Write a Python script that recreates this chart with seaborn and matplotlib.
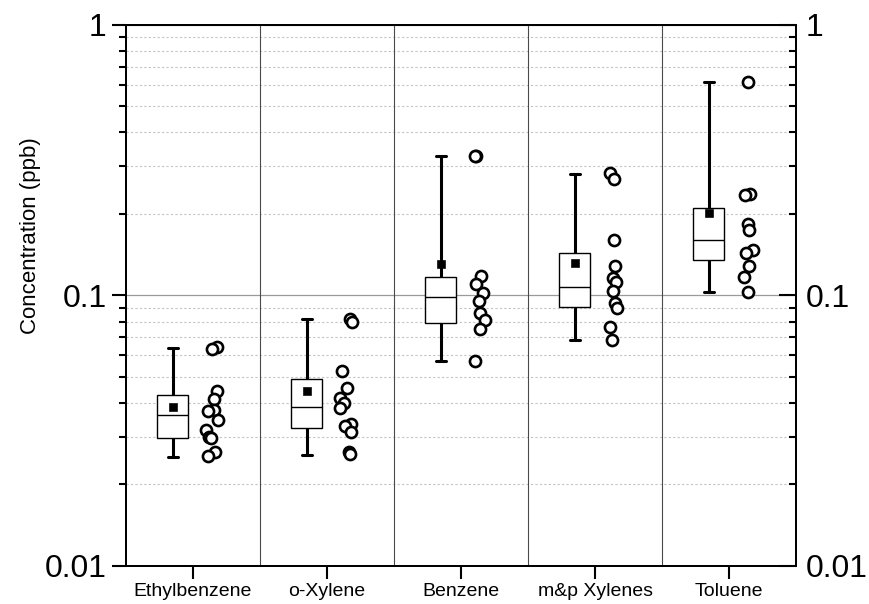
import numpy as np
import pandas as pd
import matplotlib
matplotlib.use("Agg")
import matplotlib.pyplot as plt
import seaborn as sns
from matplotlib.ticker import LogLocator, NullFormatter, FixedLocator

compounds = ["Ethylbenzene", "o-Xylene", "Benzene", "m&p Xylenes", "Toluene"]

# box summary (ppb)
whisker_low = [0.0253, 0.0257, 0.0571, 0.0683, 0.1026]
q1 = [0.0297, 0.0324, 0.0788, 0.0905, 0.1355]
median = [0.0360, 0.0387, 0.0989, 0.107, 0.160]
q3 = [0.0430, 0.0489, 0.1165, 0.144, 0.211]
whisker_high = [0.0640, 0.0815, 0.327, 0.280, 0.616]
means = [0.0388, 0.0443, 0.131, 0.132, 0.201]

# individual samples (ppb)
ethylbenzene = [0.0645, 0.0636, 0.0443, 0.0413, 0.0377, 0.0375, 0.0346,
                0.0319, 0.0300, 0.0297, 0.0263, 0.0255]
o_xylene = [0.0820, 0.0797, 0.0525, 0.0455, 0.0416, 0.0399, 0.0382,
            0.0336, 0.0330, 0.0313, 0.0264, 0.0259]
benzene = [0.327, 0.327, 0.1175, 0.1098, 0.102, 0.0955, 0.0857, 0.0814,
           0.0753, 0.0572]
mp_xylenes = [0.283, 0.270, 0.160, 0.128, 0.116, 0.112, 0.1035, 0.0937,
              0.0901, 0.0764, 0.0683]
toluene = [0.616, 0.237, 0.235, 0.184, 0.175, 0.1475, 0.143, 0.128,
           0.117, 0.1028]
samples = [ethylbenzene, o_xylene, benzene, mp_xylenes, toluene]

BOX_OFFSET = -0.15
POINT_OFFSET = 0.14

sns.set_style("white")
plt.rcParams["font.family"] = ["Liberation Sans", "DejaVu Sans"]
plt.rcParams["text.color"] = "black"
plt.rcParams["xtick.color"] = "black"
plt.rcParams["ytick.color"] = "black"
plt.rcParams["axes.labelcolor"] = "black"

n = len(compounds)
idx = np.arange(n)

# five-number table: with whis=(0, 100) seaborn reproduces the box exactly
box_df = pd.DataFrame({
    "pos": np.repeat(idx + BOX_OFFSET, 5),
    "value": np.column_stack([whisker_low, q1, median, q3, whisker_high]).ravel(),
})
pts_df = pd.DataFrame({
    "pos": np.concatenate([[i + POINT_OFFSET] * len(s) for i, s in enumerate(samples)]),
    "value": np.concatenate(samples),
})

fig = plt.figure(figsize=(8.69, 6.04), dpi=100)
ax = fig.add_axes([0.145, 0.063, 0.771, 0.896])
ax.set_yscale("log")
ax.set_axisbelow(True)

sns.boxplot(data=box_df, x="pos", y="value", native_scale=True, orient="x",
            whis=(0, 100), width=0.23, showfliers=False,
            color="white", linecolor="black", linewidth=1.0,
            whiskerprops=dict(linewidth=2.2), capprops=dict(linewidth=2.2),
            ax=ax, zorder=3)

# shorten the caps to match the reference
for cont in ax.containers:
    for cap in getattr(cont, "caps", []):
        xd = np.asarray(cap.get_xdata(), dtype=float)
        c = xd.mean()
        cap.set_xdata([c - 0.035, c + 0.035])

sns.scatterplot(x=idx + BOX_OFFSET, y=means, marker="s", color="black",
                s=32, edgecolor="black", ax=ax, zorder=5, legend=False)

np.random.seed(4)
sns.stripplot(data=pts_df, x="pos", y="value", native_scale=True, orient="x",
              jitter=0.045, color="white", edgecolor="black", linewidth=1.9,
              size=8, ax=ax, zorder=4)

# grid and category separators
ax.yaxis.set_minor_locator(LogLocator(base=10, subs=np.arange(2, 10)))
ax.yaxis.set_minor_formatter(NullFormatter())
ax.yaxis.grid(True, which="minor", linestyle=(0, (2, 2)), color="#c4c4c4", linewidth=0.8)
ax.yaxis.grid(True, which="major", linestyle="-", color="#9a9a9a", linewidth=0.9)
for sep in idx[:-1] + 0.5:
    ax.axvline(sep, color="#4a4a4a", linewidth=0.8, zorder=1)

ax.set_xlim(-0.5, n - 0.5)
ax.set_ylim(0.01, 1)
ax.set_xticks(idx)
ax.set_xticklabels(compounds, fontsize=14)
ax.set_yticks([0.01, 0.1, 1])
ax.set_yticklabels(["0.01", "0.1", "1"], fontsize=23)
ax.set_xlabel("")
ax.set_ylabel("Concentration (ppb)", fontsize=16)
ax.yaxis.set_label_coords(-0.127, 0.61)

ax.tick_params(axis="x", which="major", direction="out", length=9, width=1.5,
               pad=3, bottom=True)
ax.tick_params(axis="y", which="major", direction="out", length=10, width=1.5,
               pad=4, left=True)
ax.tick_params(axis="y", which="minor", direction="out", length=5, width=1.5, left=True)
for sp in ax.spines.values():
    sp.set_visible(True)
    sp.set_linewidth(1.4)
    sp.set_color("black")

# right-hand axis mirrors the left scale
ax2 = ax.twinx()
ax2.set_yscale("log")
ax2.set_ylim(0.01, 1)
ax2.yaxis.set_major_locator(FixedLocator([0.01, 0.1, 1]))
ax2.set_yticklabels(["0.01", "0.1", "1"], fontsize=23)
ax2.yaxis.set_minor_locator(LogLocator(base=10, subs=np.arange(2, 10)))
ax2.yaxis.set_minor_formatter(NullFormatter())
ax2.tick_params(axis="y", which="major", direction="in", length=12, width=1.5,
                pad=7, right=True)
ax2.tick_params(axis="y", which="minor", direction="in", length=5, width=1.5, right=True)
for sp in ax2.spines.values():
    sp.set_linewidth(1.4)
    sp.set_color("black")

fig.savefig("out.png", dpi=100)
